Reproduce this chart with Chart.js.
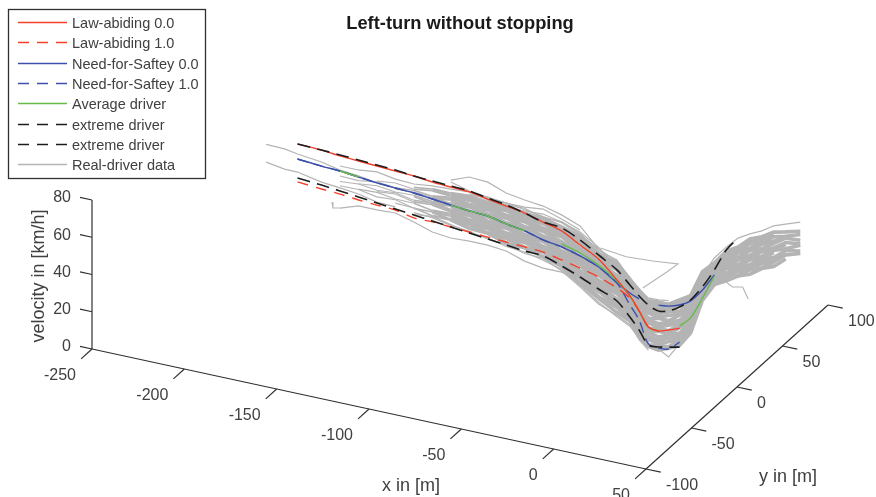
<!DOCTYPE html>
<html>
<head>
<meta charset="utf-8">
<title>Left-turn without stopping</title>
<script src="https://cdn.jsdelivr.net/npm/chart.js@4"></script>
<style>
  html, body { margin: 0; background: #fff; }
  canvas { display: block; filter: blur(0.35px); }
</style>
</head>
<body>
<canvas id="chart" width="876" height="497"></canvas>
<script>
  "use strict";

  const xTicks = [-250, -200, -150, -100, -50, 0, 50];
  const yTicks = [-100, -50, 0, 50, 100];
  const vTicks = [0, 20, 40, 60, 80];

  // ground path through the turn, shared by the traces [m]
  const pathX = [-205, -195, -188, -175, -165, -155, -145, -135, -125, -115, -105, -95, -85, -75, -65, -55, -45, -35, -25, -15, -8, -3, 2, 6, 9, 12, 14, 16, 18, 20, 22, 24, 26, 28, 30, 35];
  const pathY = [0, 0, 0, 0, 0, 0, 0, 0, 0, 0, 0, 0, 0, 0, 0, 0, 0, 0, 0, 0, 0, 0, 0, 3, 8, 14, 22, 31, 40, 49, 58, 67, 76, 85, 94, 100];

  // velocities [km/h], first value sits on path station 2
  const lawAbiding0 = [79.4, 78.9, 77.9, 77.3, 76.8, 76.2, 75.7, 74.6, 74.1, 73.6, 71.9, 70.3, 68.7, 66, 63.4, 58, 52.6, 43.5, 36.5, 29.5, 22, 19.3, 18.3, 17.2];
  const lawAbiding1 = [59, 58, 57.4, 56.4, 55.8, 55.3, 53.2, 53.2, 52.6, 52.1, 51.5, 51, 50.5, 49.9, 47.8, 45.6, 43, 39.2, 35.3, 29.4, 21.9, 19.3];
  const needForSafety0 = [71.3, 70.3, 69.8, 68.7, 67.7, 67.1, 66.6, 65.5, 64.4, 63.4, 62.8, 60.7, 59.1, 56.4, 54.8, 52.1, 48.3, 41.9, 38, 35.9, null, 33.2, 31.1, 29.7, 28.8, 31.1, 35.7];
  const needForSafety1 = [71.3, 70.3, 69.8, 68.7, 67.7, 67.1, 66.6, 65.5, 64.4, 63.4, 62.8, 60.7, 59.1, 56.4, 54.8, 52.1, 48.3, 41.9, 31.6, 24.6, 12.8, 10.1, 8.1, 9.8];
  const averageDriver = [null, null, 69.8, 68.7, null, null, null, null, 64.4, 63.4, 62.8, 60.7, 59.1, null, 56.4, 53.7, 49.4, 43, 36.4, 29.4, 21.9, 19.3, null, 18.4, 19.7, 26.8, 35.1];
  const extremeUpper = [79.4, 78.9, 78.4, 77.9, 77.3, 76.8, 75.7, 75.2, 74.6, 74.1, 72.5, 70.9, 68.7, 66, 65, 60.7, 54.8, 48.9, 42.3, 37.5, 33.7, 30, 28.5, 28.6, 29.3, 32.8, 38.3, 45.5, 48.4];
  const extremeLower = [61.1, 60.1, 59.1, 58, 56.9, 55.8, 54.8, 53.7, 52.6, 51.5, 50.5, 49.4, 48.3, 47.8, 44.6, 40.8, 36.5, 32.2, 25.1, 19.2, 12.2, 10.7, 9.1, 7.1];

  // real drivers, first value sits on path station 4
  const realDrivers = [
    [62, 60.5, 60.5, 59, 58.5, 56.5, 56.5, 54, 53.5, 50.5, 50, 47.5, 44.5, 37.5, 31.5, 26, 23, 15.5, 11.5, 9, 8.5, 8, 11.5, 25.5, 30.5, 29, 28, 25.5, 25, 22.5, 23],
    [61.9, 62, 60.2, 60.8, 58.4, 58.5, 56.6, 56.2, 53.8, 52.9, 50.4, 49.9, 45.1, 40.2, 32.3, 28.8, 23.6, 18.2, 12.3, 11.8, 9.3, 10.7, 12, 27.5, 30.4, 31.1, 28.2, 27.8, 25.3, 24.8],
    [63.2, 61.6, 61.9, 60.4, 60.1, 58.3, 58.6, 56.4, 56.1, 53.1, 52.9, 50.2, 47.6, 40.8, 35.2, 29.5, 26.1, 18.9, 15.1, 12.6, 12, 11.4, 14.6, 27.6, 32.2, 31.1, 30.4, 28, 27.6, 25, 25.2, 24.4],
    [63.8, 62.2, 62.6, 61.2, 61.1, 59.3, 59.7, 57.5, 57.3, 54.5, 54.2, 51.6, 49.2, 42.5, 36.9, 31.4, 27.8, 20.4, 16.9, 14.3, 13.8, 12.9, 16, 28.6, 33.2, 32.1, 31.6, 29.3, 28.9, 26.2, 26.3],
    [64, 62.8, 63.3, 62, 61.9, 60.2, 60.9, 58.6, 58.6, 55.8, 55.7, 53, 50.9, 44.2, 38.8, 33.2, 29.5, 22.1, 18.8, 16.1, 15.6, 14.6, 17.6, 29.7, 34.1, 33.2, 32.9, 30.6, 30.3, 27.4, 27.6, 25.8],
    [63.7, 64.4, 63, 63.9, 61.8, 62.4, 60.9, 61, 58.8, 58.4, 56, 55.6, 51.3, 47.1, 39.3, 36.2, 30, 25, 19.4, 19.1, 16.3, 17.5, 18, 31.7, 34, 35.5, 33, 33.1, 30.5, 29.9],
    [64.2, 65, 63.8, 64.6, 62.7, 63.4, 61.8, 62.2, 60, 59.8, 57.2, 56.9, 52.8, 48.9, 41.1, 38, 31.6, 26.7, 21.1, 20.8, 17.9, 19.2, 19.4, 32.8, 34.8, 36.5, 34.2, 34.3, 31.6, 31.1, 28.6, 28.9],
    [65.4, 64.5, 65.5, 64.2, 64.5, 63.1, 64, 62.2, 62.3, 59.9, 59.8, 57.1, 55.6, 49.4, 44, 38.6, 34.4, 27.2, 24.1, 21.4, 20.9, 19.7, 22, 32.8, 36.7, 36.4, 36.6, 34.4, 34, 31.2, 30.8],
    [65.8, 65.1, 66.2, 65, 65.4, 64.1, 65.1, 63.3, 63.6, 61.3, 61.2, 58.5, 57.2, 51.1, 45.9, 40.4, 36, 28.8, 25.9, 23.2, 22.6, 21.4, 23.6, 33.8, 37.6, 37.5, 37.9, 35.7, 35.3, 32.5, 31.9, 29.6],
    [65.4, 66.7, 65.9, 66.8, 65.2, 66.2, 65, 65.7, 63.8, 63.8, 61.4, 61.1, 57.6, 54, 46.5, 43.5, 36.4, 31.7, 26.5, 26.2, 23.2, 24.2, 24, 35.9, 37.5, 39.7, 37.8, 38.2, 35.6, 34.9],
    [66.8, 66.1, 67.6, 66.4, 67.1, 66, 67.2, 65.7, 66.1, 64, 64, 61.3, 60.3, 54.5, 49.5, 44.1, 39.2, 32.2, 29.5, 26.8, 26.1, 24.7, 26.6, 35.8, 39.4, 39.6, 40.2, 38.3, 38, 34.9, 34.2, 31.5],
    [67.1, 66.8, 68.3, 67.2, 68, 67, 68.3, 66.9, 67.3, 65.4, 65.4, 62.7, 61.8, 56.2, 51.2, 45.9, 40.8, 33.9, 31.3, 28.6, 27.9, 26.4, 28, 36.9, 40.3, 40.7, 41.3, 39.6, 39.2, 36.2, 35.2],
    [67, 68.3, 68, 69, 67.8, 69, 68.3, 69.2, 67.4, 67.9, 65.6, 65.2, 62.2, 59, 51.9, 48.9, 41.2, 36.7, 31.9, 31.6, 28.4, 29.3, 28.4, 39, 40.2, 42.8, 41.6, 42, 39.5, 38.5, 35.3, 34.6],
    [67.2, 68.9, 68.7, 69.8, 68.6, 70, 69.4, 70.3, 68.8, 69.2, 67.1, 66.7, 63.9, 60.8, 53.8, 50.7, 42.9, 38.3, 33.8, 33.3, 30.3, 30.8, 30, 40, 41.2, 43.9, 42.8, 43.3, 40.8, 39.8],
    [68, 69.4, 69.6, 70.4, 69.6, 70.9, 70.6, 71.3, 70.1, 70.4, 68.6, 67.9, 65.6, 62.4, 55.6, 52.4, 44.6, 39.9, 35.6, 34.9, 32.1, 32.4, 31.6, 40.9, 42.1, 44.9, 43.6, 44.4, 42.1, 41, 37.6, 36.4]
  ];
  // index into each trace where that driver was first recorded
  const firstSeen = [3, 0, 5, 1, 6, 2, 0, 4, 1, 5, 3, 0, 6, 2, 4];

  // single traces outside the bundle: { from: first path station, v: km/h }
  const highStart = { from: 0, v: [75.5, 75.2, 74, 72.5, 70.3, 69.3, 67.7, 67] };
  const lowStart = { from: 0, v: [66, 64.4, 64.3, 61.7, 60.7, 59.6, 57.4, 57] };
  const lateSlow = { from: 4, v: [49.9, 53.2, 53.2, 53.7, 51, 47.8, 46.7, 47.2, 47.2, 46.2, 42.9, 41.3, 41.3, 38] };
  const lateFast = { from: 10, v: [77.8, 81.6, 81, 77.3, 75.7, 74.6, 72, 68.2, 58] };
  const midFast = { from: 10, v: [76.8, 74.1, 71.4, 69.3, 69.8, 70.3, 68.2, 65, 59, 50] };
  const upperEdge = { from: 4, v: [72.5, 72.5, 73.6, 71.9, 71.4, 72.5, 73, 73.6, 73, 71.9, 71.9, 73, 69.8, 66] };
  const exitFast = { from: 27, v: [39, 44.8, 47.1, 48.4, 47.1, 45.2, 44.4, 41.8, 41.3] };
  const cornerSlow = { from: 21, v: [14, 12.2, 9.6, 3.8, 8.8, 14] };
  const fringeLowA = { from: 8, v: [56, 55.5, 53.5, 52.5, 50.5, 49.5, 47, 46.5, 42, 35.5, 28.5, 24.5, 21, 14, 9.5] };
  const fringeLowB = { from: 8, v: [55, 56.2, 54, 51.8, 51, 48.6, 47.8, 45.5, 42.8, 36.2, 29.4, 23.8, 20.2, 14.8] };
  const fringeHighA = { from: 11, v: [72.6, 72, 72, 70.5, 69, 67.8, 63.5, 58, 53.5, 46.5, 41, 37.5, 36, 34] };
  const fringeHighB = { from: 11, v: [71.8, 72.8, 71, 71.3, 68.4, 68.4, 64.2, 57.2, 54.2, 45.8, 41.6, 36.9, 35.4] };

  // stray traces with their own ground path
  const loopX = [-24, -10, 4.5, 18, 12, -1];
  const loopY = [0, 0, 0, 0, 0, 0];
  const loopV = [58.7, 57, 57.9, 59.2, 53.6, 42.2];
  const hookX = [20, 21, 23, 23.5, 24];
  const hookY = [49, 54, 61, 63, 65];
  const hookV = [28.3, 23.7, 21, 17, 13];
  const kinkX = [-169.3, -168.8, -165];
  const kinkY = [0, 0, 0];
  const kinkV = [52.2, 49.1, 49.9];

  const RED = "#f5402a";
  const BLUE = "#3c50ad";
  const GREEN = "#66bb4a";
  const BLACK = "#1c1c1c";
  const GRAY = "#b4b4b4";
  const AXIS = "#303030";
  const TEXT = "#404040";
  const DASH = [13, 7];
  const FONT = '"Liberation Sans", Arial, sans-serif';

  const legendItems = [
    ["Law-abiding 0.0", RED, []],
    ["Law-abiding 1.0", RED, [11, 8]],
    ["Need-for-Saftey 0.0", BLUE, []],
    ["Need-for-Saftey 1.0", BLUE, [11, 8]],
    ["Average driver", GREEN, []],
    ["extreme driver", BLACK, [11, 8]],
    ["extreme driver", BLACK, [11, 8]],
    ["Real-driver data", GRAY, []]
  ];

  // fixed view of the 3D box, same as the axes in the figure
  const project = (x, y, v) => {
    if (v === null) return { x: NaN, y: NaN };
    return {
      x: 92 + (x + 250) / 300 * 554 + (y + 100) / 200 * 182,
      y: 349 + (x + 250) / 300 * 120 - (y + 100) / 200 * 164 - v / 80 * 149
    };
  };

  const onPath = (values, from) => values.map((v, i) => project(pathX[from + i], pathY[from + i], v));
  const ownPath = (xs, ys, vs) => vs.map((v, i) => project(xs[i], ys[i], v));
  const line = (data, color, width, dash, tension) => ({
    data, borderColor: color, borderWidth: width, borderDash: dash || [],
    pointRadius: 0, showLine: true, fill: false, tension: tension || 0
  });
  const segment = (a, b) => line([project(...a), project(...b)], AXIS, 1.2);

  // the bundle thickens into a solid band once the traces crowd together
  const bandWidth = (ctx) => {
    const px = ctx.p0.parsed.x;
    if (px < 400) return 1.1;
    if (px < 425) return 1.6;
    if (px < 450) return 2.4;
    return 3.6;
  };
  const bundle = (values, k) => {
    const ds = line(onPath(values.map((v, i) => (i < firstSeen[k] ? null : v)), 4), GRAY, 1.1);
    ds.segment = { borderWidth: bandWidth };
    return ds;
  };

  const axisLines = [
    segment([-250, -100, 0], [50, -100, 0]),
    segment([50, -100, 0], [50, 100, 0]),
    segment([-250, -100, 0], [-250, -100, 80]),
    ...xTicks.map((t) => segment([t, -100, 0], [t, -112, 0])),
    ...yTicks.map((t) => segment([50, t, 0], [58, t, 0])),
    ...vTicks.map((t) => segment([-250, -100, t], [-256.5, -100, t]))
  ];

  const strays = [highStart, lowStart, lateSlow, lateFast, midFast, upperEdge, exitFast, cornerSlow, fringeLowA, fringeLowB, fringeHighA, fringeHighB];

  // first dataset ends up on top
  const datasets = [
    line(onPath(extremeUpper, 2), BLACK, 1.6, DASH, 0.3),
    line(onPath(extremeLower, 2), BLACK, 1.6, DASH, 0.3),
    line(onPath(lawAbiding0, 2), RED, 1.4, [], 0.3),
    line(onPath(lawAbiding1, 2), RED, 1.4, [11, 8], 0.3),
    line(onPath(averageDriver, 2), GREEN, 1.4, [], 0.3),
    line(onPath(needForSafety1, 2), BLUE, 1.4, [11, 6], 0.3),
    line(onPath(needForSafety0, 2), BLUE, 1.4, [], 0.3),
    ...realDrivers.map(bundle),
    ...strays.map((s) => line(onPath(s.v, s.from), GRAY, 1.2)),
    line(ownPath(loopX, loopY, loopV), GRAY, 1.1),
    line(ownPath(hookX, hookY, hookV), GRAY, 1.1),
    line(ownPath(kinkX, kinkY, kinkV), GRAY, 1.1),
    ...axisLines
  ];

  const figureText = {
    id: "figureText",
    afterDatasetsDraw(chart) {
      const ctx = chart.ctx;
      ctx.save();
      ctx.fillStyle = TEXT;
      ctx.textBaseline = "middle";
      ctx.font = `16px ${FONT}`;

      ctx.textAlign = "right";
      xTicks.forEach((t) => {
        const p = project(t, -100, 0);
        ctx.fillText(String(t), p.x - 16, p.y + 27);
      });
      vTicks.forEach((t) => {
        const p = project(-250, -100, t);
        ctx.fillText(String(t), p.x - 21, p.y - 2);
      });
      ctx.textAlign = "left";
      yTicks.forEach((t) => {
        const p = project(50, t, 0);
        ctx.fillText(String(t), p.x + 20, p.y + 17);
      });

      ctx.font = `18px ${FONT}`;
      ctx.textAlign = "center";
      ctx.fillText("x in [m]", 411, 486);
      ctx.fillText("y in [m]", 788, 477);
      ctx.save();
      ctx.translate(39, 276);
      ctx.rotate(-Math.PI / 2);
      ctx.fillText("velocity in [km/h]", 0, 0);
      ctx.restore();

      ctx.fillStyle = "#1a1a1a";
      ctx.font = `bold 18.3px ${FONT}`;
      ctx.fillText("Left-turn without stopping", 460, 24);

      // legend box
      ctx.fillStyle = "#fff";
      ctx.fillRect(8.5, 9.5, 197, 169);
      ctx.strokeStyle = AXIS;
      ctx.lineWidth = 1.3;
      ctx.strokeRect(8.5, 9.5, 197, 169);
      ctx.font = `14.5px ${FONT}`;
      ctx.textAlign = "left";
      legendItems.forEach(([label, color, dash], i) => {
        const y = Math.round(22 + i * 20.35) + 0.5;
        ctx.strokeStyle = color;
        ctx.setLineDash(dash);
        ctx.beginPath();
        ctx.moveTo(18, y);
        ctx.lineTo(67, y);
        ctx.stroke();
        ctx.setLineDash([]);
        ctx.fillStyle = TEXT;
        ctx.fillText(label, 72, y + 1);
      });
      ctx.restore();
    }
  };

  new Chart(document.getElementById("chart"), {
    type: "scatter",
    data: { datasets },
    plugins: [figureText],
    options: {
      responsive: false,
      animation: false,
      layout: { padding: 0 },
      plugins: { legend: { display: false }, tooltip: { enabled: false } },
      scales: {
        x: { type: "linear", display: false, min: 0, max: 876 },
        y: { type: "linear", display: false, min: 0, max: 497, reverse: true }
      }
    }
  });
</script>
</body>
</html>
